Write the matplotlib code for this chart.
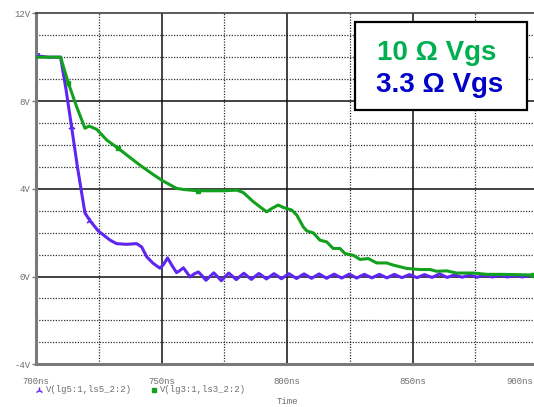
import matplotlib
matplotlib.use("Agg")
import matplotlib.pyplot as plt
import matplotlib.transforms as mtrans
from matplotlib.lines import Line2D
from matplotlib.patches import Rectangle

# V(lg5:1,ls5_2:2)  -> 3.3 ohm gate resistor (purple)
t_33 = [700, 701.2, 705, 709.8, 712.0, 714.2, 716.5, 719.5, 721.5, 724.8, 729.5, 732.1, 736.1,
        740.1, 742.1, 744.1, 746.7, 749.4, 750.8, 752.4, 754.2, 756.0, 757.3, 758.7, 760.0,
        761.4, 763.0, 764.7, 766.2, 767.7, 769.3, 770.8, 772.3, 773.8, 775.3, 776.8, 778.3,
        779.8, 781.3, 782.8, 784.3, 785.8, 787.3, 788.8, 790.3, 791.8, 793.3, 794.8, 796.3,
        797.8, 799.3, 800.8, 802.3, 803.8, 805.3, 806.8, 808.3, 809.8, 811.3, 812.8, 814.3,
        815.8, 817.3, 818.8, 820.3, 821.8, 823.3, 824.8, 826.3, 827.8, 829.3, 830.8, 832.3,
        833.8, 835.3, 836.8, 838.3, 839.8, 841.3, 842.8, 844.3, 845.8, 847.3, 848.8, 850.3,
        851.8, 853.3, 854.8, 856.3, 857.8, 859.3, 860.8, 862.3, 863.8, 865.3, 866.8, 868.3,
        869.8, 871.3, 872.8, 874.3, 875.8, 877.3, 878.8, 880.3, 881.8, 883.3, 884.8, 886.3,
        887.8, 889.3, 890.8, 892.3, 893.8, 895.3, 896.8, 898.3, 900]
v_33 = [10.0, 10.05, 10.0, 10.0, 8.5, 6.8, 5.0, 2.9, 2.55, 2.08, 1.66, 1.5, 1.47,
        1.5, 1.35, 0.9, 0.6, 0.38, 0.55, 0.85, 0.5, 0.18, 0.27, 0.4, 0.2,
        -0.02, 0.12, 0.21, 0.03, -0.17, 0.0, 0.17, 0.0, -0.19, -0.01, 0.16, 0.01,
        -0.14, 0.01, 0.15, 0.01, -0.13, 0.01, 0.14, 0.02, -0.11, 0.01, 0.13, 0.02,
        -0.1, 0.02, 0.13, 0.02, -0.09, 0.02, 0.12, 0.02, -0.08, 0.02, 0.12, 0.02,
        -0.08, 0.02, 0.11, 0.02, -0.07, 0.02, 0.11, 0.02, -0.07, 0.02, 0.1, 0.02,
        -0.06, 0.02, 0.1, 0.02, -0.06, 0.02, 0.1, 0.02, -0.05, 0.02, 0.09, 0.02,
        -0.05, 0.02, 0.09, 0.02, -0.04, 0.04, 0.12, 0.04, -0.04, 0.02, 0.07, 0.02,
        -0.03, 0.02, 0.07, 0.02, -0.03, 0.02, 0.06, 0.02, -0.02, 0.02, 0.06, 0.02,
        -0.02, 0.02, 0.05, 0.02, -0.02, 0.02, 0.05, 0.02, -0.01]

# V(lg3:1,ls3_2:2)  -> 10 ohm gate resistor (green)
t_10 = [700, 709.8, 712.9, 716.2, 719.5, 721.2, 724.2, 728.2, 732.8, 737.4, 741.4, 746.7,
        750.4, 756.0, 758.7, 764.7, 774.6, 780.0, 782.6, 786.6, 789.2, 791.9, 793.9, 796.5,
        798.5, 801.9, 803.9, 806.5, 807.9, 810.5, 813.1, 815.8, 818.4, 821.1, 823.1, 826.4,
        829.1, 832.4, 835.7, 839.7, 842.4, 847.7, 853.0, 857.0, 859.6, 863.6, 867.6, 874.2,
        879.6, 884.9, 890.2, 898.1, 900]
v_10 = [10.0, 10.0, 8.81, 7.74, 6.76, 6.86, 6.71, 6.22, 5.84, 5.43, 5.08, 4.65,
        4.37, 4.02, 3.97, 3.91, 3.91, 3.94, 3.83, 3.41, 3.18, 2.95, 3.1, 3.26,
        3.15, 3.03, 2.8, 2.26, 2.08, 1.99, 1.66, 1.58, 1.28, 1.28, 1.05, 0.97,
        0.78, 0.82, 0.62, 0.62, 0.52, 0.37, 0.32, 0.32, 0.24, 0.26, 0.16, 0.16,
        0.1, 0.1, 0.09, 0.07, 0.07]

x_ticks = [700, 750, 800, 850, 900]
x_labels = ["700ns", "750ns", "800ns", "850ns", "900ns"]
y_ticks = [-4, 0, 4, 8, 12]
y_labels = ["-4V", "0V", "4V", "8V", "12V"]

purple = "#5f26f2"
green = "#12a01e"
grey = "#6e6e6e"
mono = "Liberation Mono"
fs = 6.5

W, H = 534, 407
fig = plt.figure(figsize=(W / 100, H / 100), dpi=100)
ax = fig.add_axes([36 / W, (H - 364.3) / H, (538 - 36) / W, (364.3 - 13.3) / H])

ax.set_xlim(700, 900)
ax.set_ylim(-4, 12)

# dotted minor grid
for v in range(-3, 12):
    if v % 4 != 0:
        ax.axhline(v, color="#303030", lw=0.9, ls=(0, (1, 1.2)), zorder=1)
for t in [725, 775, 825, 875]:
    ax.axvline(t, color="#303030", lw=0.9, ls=(0, (1, 1.2)), zorder=1)
# solid major grid
for v in [0, 4, 8]:
    ax.axhline(v, color="#101010", lw=1.1, zorder=1.5)
for t in [750, 800, 850]:
    ax.axvline(t, color="#101010", lw=1.1, zorder=1.5)

ax.plot(t_33, v_33, color=purple, lw=2.2, zorder=3, solid_joinstyle="round",
        marker="2", markersize=5, markeredgewidth=1.3, markevery=[1, 5, 8])
ax.plot(t_10, v_10, color=green, lw=2.2, zorder=4, solid_joinstyle="round",
        marker="s", markersize=2.5, markevery=[2, 8, 15, 51])

for side in ["left", "bottom"]:
    ax.spines[side].set_color("#7a7a7a")
    ax.spines[side].set_linewidth(2.2)
ax.spines["top"].set_color("#404040")
ax.spines["top"].set_linewidth(1.2)
ax.spines["right"].set_visible(False)

ax.set_xticks(x_ticks)
ax.set_xticklabels(x_labels, fontfamily=mono, fontsize=fs, color=grey)
ax.set_yticks(y_ticks)
ax.set_yticklabels(y_labels, fontfamily=mono, fontsize=fs, color=grey)
ax.tick_params(axis="x", length=0, pad=9)
ax.tick_params(axis="y", length=3, width=1, color="#7a7a7a", pad=1)
last = ax.get_xticklabels()[-1]
last.set_ha("right")
last.set_transform(last.get_transform() +
                   mtrans.ScaledTranslation(-5 / 100, 0, fig.dpi_scale_trans))

# annotation box
fig.add_artist(Rectangle((355 / W, 1 - 110 / H), (527 - 355) / W, (110 - 22) / H,
                         transform=fig.transFigure, facecolor="white",
                         edgecolor="black", lw=1.6, zorder=10))
fig.text(377 / W, 1 - 59.5 / H, "10 \u03a9 Vgs", color="#00b050", fontsize=20,
         fontweight="bold", family="Liberation Sans", va="baseline", zorder=11)
fig.text(376 / W, 1 - 91.5 / H, "3.3 \u03a9 Vgs", color="#0000c8", fontsize=20,
         fontweight="bold", family="Liberation Sans", va="baseline", zorder=11)

# trace legend under the plot
fig.add_artist(Line2D([39 / W], [1 - 390 / H], transform=fig.transFigure, color=purple,
                      marker="2", markersize=5, markeredgewidth=1.0, ls="none"))
fig.text(46 / W, 1 - 390 / H, "V(lg5:1,ls5_2:2)", fontfamily=mono, fontsize=fs,
         color=grey, va="center")
fig.add_artist(Line2D([154 / W], [1 - 390 / H], transform=fig.transFigure, color=green,
                      marker="s", markersize=2.5, ls="none"))
fig.text(160 / W, 1 - 390 / H, "V(lg3:1,ls3_2:2)", fontfamily=mono, fontsize=fs,
         color=grey, va="center")
fig.text(287 / W, 1 - 402 / H, "Time", fontfamily=mono, fontsize=fs,
         color=grey, ha="center", va="center")

fig.savefig("out.png", dpi=100)
